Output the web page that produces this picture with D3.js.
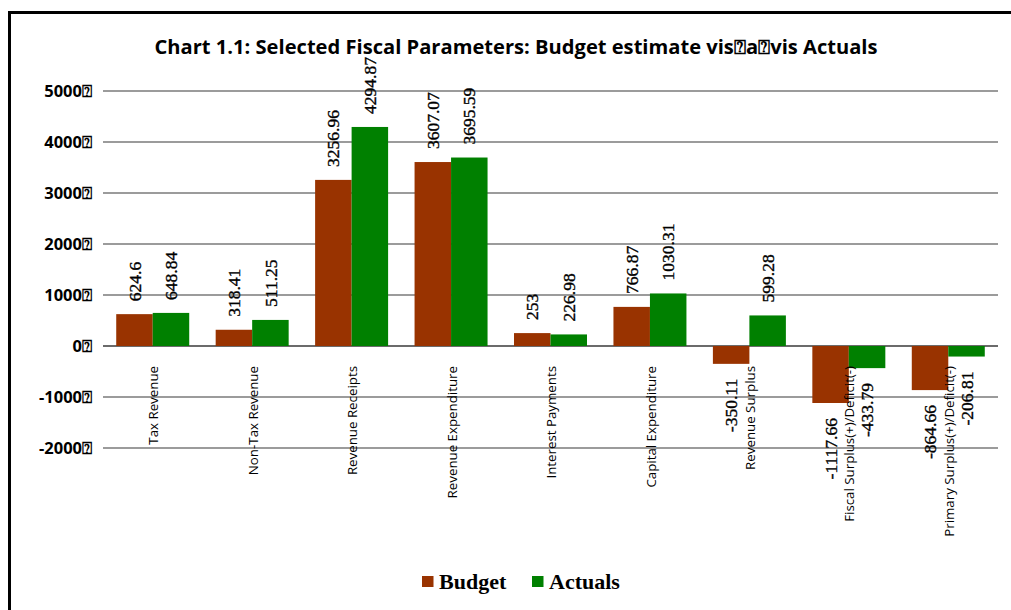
<!DOCTYPE html>
<html>
<head>
<meta charset="utf-8">
<script src="https://cdn.jsdelivr.net/npm/d3@7"></script>
<style>
  html, body { margin: 0; padding: 0; background: #fff; }
  svg { display: block; }
</style>
</head>
<body>
<svg id="chart" width="1011" height="610"></svg>
<script>
// Fiscal parameters, Budget estimate vs Actuals
const categories = [
  "Tax Revenue",
  "Non-Tax Revenue",
  "Revenue Receipts",
  "Revenue Expenditure",
  "Interest Payments",
  "Capital Expenditure",
  "Revenue Surplus",
  "Fiscal Surplus(+)/Deficit(-)",
  "Primary Surplus(+)/Deficit(-)"
];
const budget  = [624.6, 318.41, 3256.96, 3607.07, 253, 766.87, -350.11, -1117.66, -864.66];
const actuals = [648.84, 511.25, 4294.87, 3695.59, 226.98, 1030.31, 599.28, -433.79, -206.81];
const seriesNames = ["Budget", "Actuals"];
const seriesColors = ["#993300", "#008000"];
const yTicks = [-2000, -1000, 0, 1000, 2000, 3000, 4000, 5000];
const titleText = "Chart 1.1: Selected Fiscal Parameters: Budget estimate vis\u2370a\u2370vis Actuals";

const svg = d3.select("#chart");

// outer frame
svg.append("rect")
  .attr("x", 9.5).attr("y", 12.5)
  .attr("width", 1020).attr("height", 620)
  .attr("fill", "none").attr("stroke", "#000").attr("stroke-width", 3);

// title
svg.append("text")
  .attr("x", 516).attr("y", 54)
  .attr("text-anchor", "middle")
  .attr("font-family", "'Open Sans', sans-serif")
  .attr("font-weight", "bold")
  .attr("font-size", 20)
  .attr("textLength", 723)
  .attr("lengthAdjust", "spacingAndGlyphs")
  .text(titleText);

const plot = { left: 103, right: 998 };
const y = d3.scaleLinear().domain([-2000, 5000]).range([448, 91]);

const x0 = d3.scaleBand()
  .domain(categories)
  .range([plot.left, plot.right])
  .paddingInner(0.266)
  .paddingOuter(0.133);
const x1 = d3.scaleBand()
  .domain(seriesNames)
  .range([0, x0.bandwidth()]);

// gridlines
const grid = svg.append("g");
grid.selectAll("line")
  .data(yTicks)
  .join("line")
  .attr("x1", plot.left).attr("x2", plot.right)
  .attr("y1", d => y(d)).attr("y2", d => y(d))
  .attr("stroke", d => d === 0 ? "#3a3a3a" : "#7a7a7a")
  .attr("stroke-width", 1.3);

// y axis labels
const yAxis = d3.axisLeft(y)
  .tickValues(yTicks)
  .tickSize(0)
  .tickPadding(0)
  .tickFormat(d => d + "\u2370");
const yAxisG = svg.append("g")
  .attr("transform", `translate(${92},0)`)
  .call(yAxis);
yAxisG.select(".domain").remove();
yAxisG.selectAll("text")
  .attr("font-family", "'Open Sans', sans-serif")
  .attr("font-weight", "bold")
  .attr("font-size", 16.5)
  .attr("fill", "#000");

// bars
const rows = categories.map((c, i) => ({ cat: c, vals: [budget[i], actuals[i]] }));
const groups = svg.append("g").selectAll("g")
  .data(rows)
  .join("g")
  .attr("transform", d => `translate(${x0(d.cat)},0)`);

groups.selectAll("rect")
  .data(d => d.vals.map((v, k) => ({ v, k })))
  .join("rect")
  .attr("x", d => x1(seriesNames[d.k]))
  .attr("width", x1.bandwidth())
  .attr("y", d => y(Math.max(0, d.v)))
  .attr("height", d => Math.abs(y(d.v) - y(0)))
  .attr("fill", d => seriesColors[d.k]);

// value labels (rotated)
groups.selectAll("text.val")
  .data(d => d.vals.map((v, k) => ({ v, k })))
  .join("text")
  .attr("class", "val")
  .attr("transform", d => {
    const cx = x1(seriesNames[d.k]) + x1.bandwidth() / 2;
    const cy = d.v >= 0 ? y(d.v) - 13 : y(d.v) + 15;
    return `translate(${cx},${cy}) rotate(-90)`;
  })
  .attr("text-anchor", d => d.v >= 0 ? "start" : "end")
  .attr("dy", "0.35em")
  .attr("font-family", "'Liberation Serif', 'Times New Roman', serif")
  .attr("font-size", 17.5)
  .attr("stroke", "#000")
  .attr("stroke-width", 0.35)
  .attr("fill", "#000")
  .text(d => String(d.v));

// category labels (rotated)
svg.append("g").selectAll("text")
  .data(categories)
  .join("text")
  .attr("transform", d => `translate(${x0(d) + x0.bandwidth() / 2 + 1},366) rotate(-90)`)
  .attr("text-anchor", "end")
  .attr("dy", "0.35em")
  .attr("font-family", "'Open Sans', sans-serif")
  .attr("font-size", 13.3)
  .attr("fill", "#000")
  .text(d => d);

// legend
const legend = svg.append("g");
const legendItems = [
  { name: seriesNames[0], color: seriesColors[0], x: 422 },
  { name: seriesNames[1], color: seriesColors[1], x: 532 }
];
legendItems.forEach(it => {
  legend.append("rect")
    .attr("x", it.x).attr("y", 576)
    .attr("width", 11.5).attr("height", 11)
    .attr("fill", it.color);
  legend.append("text")
    .attr("x", it.x + 17).attr("y", 589)
    .attr("font-family", "'Liberation Serif', 'Times New Roman', serif")
    .attr("font-weight", "bold")
    .attr("font-size", 22)
    .attr("fill", "#000")
    .text(it.name);
});
</script>
</body>
</html>
